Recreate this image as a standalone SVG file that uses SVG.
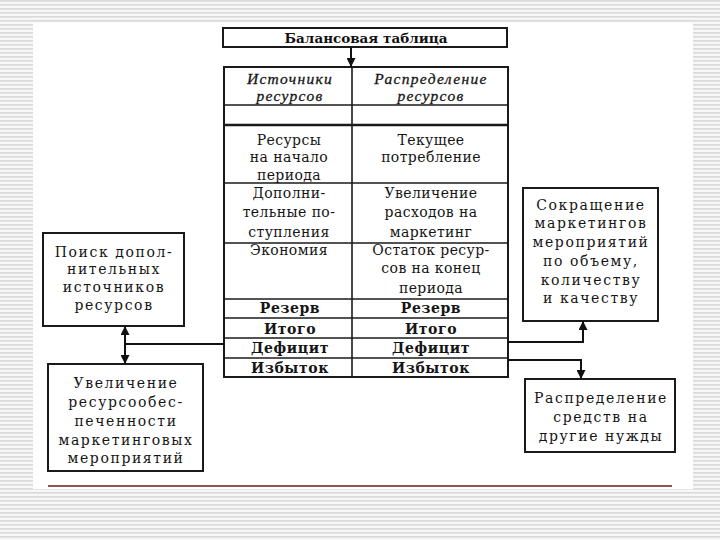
<svg xmlns="http://www.w3.org/2000/svg" width="720" height="540" viewBox="0 0 720 540">
<defs>
<pattern id="stripes" x="0" y="0" width="8" height="4" patternUnits="userSpaceOnUse">
<rect width="8" height="4" fill="#f7f7f7"/>
<rect y="0" width="8" height="1.6" fill="#d9d9d9"/>
</pattern>
<marker id="ah" viewBox="0 0 10 10" refX="10" refY="5" markerWidth="9" markerHeight="9" markerUnits="userSpaceOnUse" orient="auto">
<path d="M0,0 L10,5 L0,10 z" fill="#111"/>
</marker>
<style>
.box{fill:#fff;stroke:#1a1a1a;stroke-width:2}
.ln{stroke:#1a1a1a;stroke-width:1.6;fill:none}
.thick{stroke:#1a1a1a;stroke-width:2.6;fill:none}
.t{font-family:"DejaVu Serif","Liberation Serif",serif;font-size:14px;fill:#151515;text-anchor:middle;letter-spacing:0.4px}
.b{font-family:"DejaVu Serif","Liberation Serif",serif;font-size:14px;fill:#151515;text-anchor:middle;letter-spacing:1.6px}
.s{font-family:"DejaVu Serif","Liberation Serif",serif;font-weight:bold;font-size:14px;fill:#151515;text-anchor:middle;letter-spacing:0.6px}
.h{font-family:"Liberation Serif","DejaVu Serif",serif;font-style:italic;font-size:15.5px;fill:#151515;text-anchor:middle;letter-spacing:1.3px;stroke:#151515;stroke-width:0.3}
.title{font-family:"DejaVu Serif","Liberation Serif",serif;font-weight:bold;font-size:13.5px;fill:#111;text-anchor:middle}
.conn{stroke:#111;stroke-width:2;fill:none}
</style>
</defs>
<rect width="720" height="540" fill="url(#stripes)"/>
<rect x="33" y="23" width="660" height="466" fill="#fff"/>
<line x1="48" y1="486" x2="672" y2="486" stroke="#6e1c1c" stroke-width="1.6"/>

<g id="title">
<rect class="box" x="223" y="28" width="284" height="19"/>
<text class="title" x="366" y="42.5">Балансовая таблица</text>
</g>

<g id="table">
<rect class="box" x="224" y="67" width="284" height="310"/>
<line class="ln" x1="352" y1="67" x2="352" y2="377"/>
<line class="ln" x1="224" y1="105" x2="508" y2="105"/>
<line class="thick" x1="224" y1="125" x2="508" y2="125"/>
<line class="ln" x1="224" y1="183" x2="508" y2="183"/>
<line class="ln" x1="224" y1="243" x2="508" y2="243"/>
<line class="ln" x1="224" y1="299" x2="508" y2="299"/>
<line class="ln" x1="224" y1="318" x2="508" y2="318"/>
<line class="ln" x1="224" y1="338" x2="508" y2="338"/>
<line class="ln" x1="224" y1="358" x2="508" y2="358"/>
<text class="h" x="290" y="84">Источники</text>
<text class="h" x="290" y="101">ресурсов</text>
<text class="h" x="431" y="84">Распределение</text>
<text class="h" x="431" y="101">ресурсов</text>
<text class="t" x="289" y="145">Ресурсы</text>
<text class="t" x="289" y="162">на начало</text>
<text class="t" x="289" y="180">периода</text>
<text class="t" x="431" y="145">Текущее</text>
<text class="t" x="431" y="162">потребление</text>
<text class="t" x="289" y="198">Дополни-</text>
<text class="t" x="289" y="217">тельные по-</text>
<text class="t" x="289" y="237">ступления</text>
<text class="t" x="431" y="198">Увеличение</text>
<text class="t" x="431" y="217">расходов на</text>
<text class="t" x="431" y="237">маркетинг</text>
<text class="t" x="289" y="255">Экономия</text>
<text class="t" x="431" y="255">Остаток ресур-</text>
<text class="t" x="431" y="273">сов на конец</text>
<text class="t" x="431" y="293">периода</text>
<text class="s" x="290" y="313">Резерв</text>
<text class="s" x="431" y="313">Резерв</text>
<text class="s" x="290" y="333.5">Итого</text>
<text class="s" x="431" y="333.5">Итого</text>
<text class="s" x="290" y="353">Дефицит</text>
<text class="s" x="431" y="353">Дефицит</text>
<text class="s" x="290" y="372.5">Избыток</text>
<text class="s" x="431" y="372.5">Избыток</text>
</g>

<g id="search">
<rect class="box" x="43" y="233" width="141" height="93"/>
<text class="b" x="114" y="257">Поиск допол-</text>
<text class="b" x="114" y="274">нительных</text>
<text class="b" x="114" y="292">источников</text>
<text class="b" x="114" y="310">ресурсов</text>
</g>

<g id="increase">
<rect class="box" x="48" y="364" width="155" height="107"/>
<text class="b" x="126" y="388">Увеличение</text>
<text class="b" x="126" y="407">ресурсообес-</text>
<text class="b" x="126" y="426">печенности</text>
<text class="b" x="126" y="445">маркетинговых</text>
<text class="b" x="126" y="463">мероприятий</text>
</g>

<g id="reduce">
<rect class="box" x="523" y="188" width="135" height="133"/>
<text class="b" x="591" y="210">Сокращение</text>
<text class="b" x="591" y="228">маркетингов</text>
<text class="b" x="591" y="247">мероприятий</text>
<text class="b" x="591" y="266">по объему,</text>
<text class="b" x="591" y="285">количеству</text>
<text class="b" x="591" y="303">и качеству</text>
</g>

<g id="distribute">
<rect class="box" x="525" y="379" width="150" height="73"/>
<text class="b" x="601" y="403">Распределение</text>
<text class="b" x="601" y="422">средств на</text>
<text class="b" x="601" y="441">другие нужды</text>
</g>

<g id="connectors">
<line class="conn" x1="351" y1="47" x2="351" y2="67" marker-end="url(#ah)"/>
<polyline class="conn" points="224,344 125,344"/>
<line class="conn" x1="125" y1="344" x2="125" y2="326" marker-end="url(#ah)"/>
<line class="conn" x1="125" y1="344" x2="125" y2="364" marker-end="url(#ah)"/>
<polyline class="conn" points="508,342 583,342 583,321" marker-end="url(#ah)"/>
<polyline class="conn" points="508,360 581,360 581,379" marker-end="url(#ah)"/>
</g>
</svg>
